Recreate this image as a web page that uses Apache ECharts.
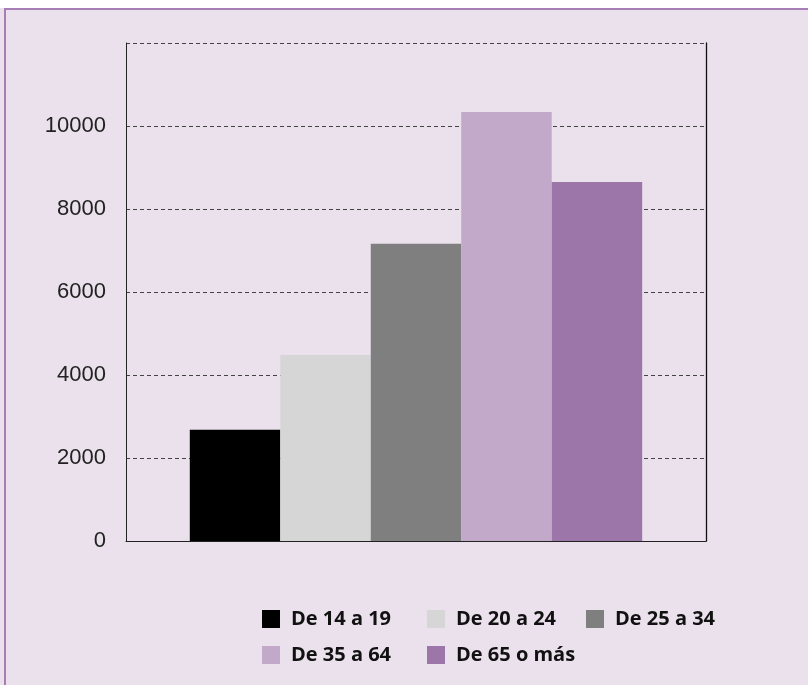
<!DOCTYPE html>
<html>
<head>
<meta charset="utf-8">
<script src="https://cdn.jsdelivr.net/npm/echarts@6/dist/echarts.min.js"></script>
<style>
  html, body { margin: 0; padding: 0; background: #ffffff; }
  #chart { position: absolute; left: 0; top: 0; width: 808px; height: 685px; }
</style>
</head>
<body>
<div id="chart"></div>
<script>
const groupNames = ['De 14 a 19', 'De 20 a 24', 'De 25 a 34', 'De 35 a 64', 'De 65 o más'];
const groupValues = [2680, 4480, 7160, 10340, 8650];
const groupColors = ['#000000', '#d6d6d6', '#7f7f7f', '#c2a9ca', '#9c76a9'];
const yTicks = [0, 2000, 4000, 6000, 8000, 10000, 12000];

const chart = echarts.init(document.getElementById('chart'), null, { renderer: 'canvas' });

const legendPos = [
  { left: 262, top: 609 },
  { left: 427, top: 609 },
  { left: 586, top: 609 },
  { left: 262, top: 645 },
  { left: 427, top: 645 }
];

const option = {
  animation: false,
  backgroundColor: '#ebe1ed',
  graphic: [
    { type: 'rect', left: 0, top: 0, shape: { width: 808, height: 8 }, style: { fill: '#ffffff' }, z: 100 },
    { type: 'rect', left: 4, top: 8, shape: { width: 804, height: 2 }, style: { fill: '#a67db5' }, z: 100 },
    { type: 'rect', left: 4, top: 8, shape: { width: 2, height: 677 }, style: { fill: '#a67db5' }, z: 100 }
  ],
  grid: { left: 126, right: 102, top: 43, bottom: 144, containLabel: false },
  legend: groupNames.map((n, i) => ({
    data: [n],
    left: legendPos[i].left,
    top: legendPos[i].top,
    padding: 0,
    icon: 'rect',
    itemWidth: 18,
    itemHeight: 18,
    textStyle: {
      fontFamily: 'Open Sans',
      fontWeight: 'bold',
      fontSize: 20,
      color: '#111111',
      padding: [0, 0, 0, 6]
    }
  })),
  xAxis: {
    type: 'category',
    data: [''],
    axisLine: { show: true, lineStyle: { color: '#222222', width: 1 } },
    axisTick: { show: false },
    axisLabel: { show: false }
  },
  yAxis: [
    {
      type: 'value',
      min: yTicks[0],
      max: yTicks[yTicks.length - 1],
      interval: 2000,
      axisLine: { show: true, lineStyle: { color: '#222222', width: 1 } },
      axisTick: { show: false },
      axisLabel: {
        margin: 20,
        fontFamily: 'Liberation Sans',
        fontSize: 22,
        color: '#222222',
        formatter: v => (v === 12000 ? '' : String(v))
      },
      splitLine: { show: true, lineStyle: { color: '#444444', type: [4, 3], width: 1 } }
    },
    {
      type: 'value',
      position: 'right',
      min: yTicks[0],
      max: yTicks[yTicks.length - 1],
      interval: 2000,
      axisLine: { show: true, lineStyle: { color: '#111111', width: 1.3 } },
      axisTick: { show: false },
      axisLabel: { show: false },
      splitLine: { show: false }
    }
  ],
  series: groupNames.map((n, i) => ({
    name: n,
    type: 'bar',
    data: [groupValues[i]],
    itemStyle: { color: groupColors[i] },
    barGap: '0%',
    barCategoryGap: '22%',
    z: 1
  }))
};

chart.setOption(option);
</script>
</body>
</html>
